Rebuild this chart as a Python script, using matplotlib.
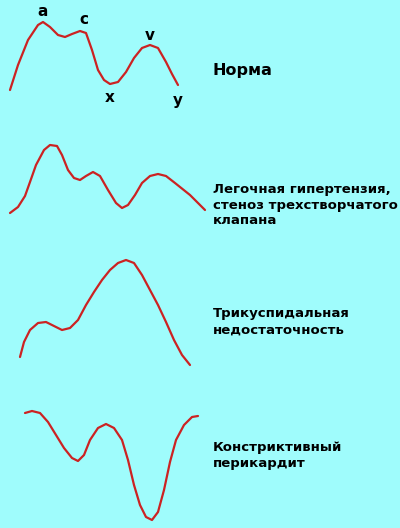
import matplotlib
matplotlib.use("Agg")
import matplotlib.pyplot as plt

# curves in picture pixel coordinates (x right, y down)
norm_x = [10, 18, 28, 38, 43, 50, 58, 65, 72, 80, 86, 92, 98, 104, 110, 118, 126, 134, 142, 150, 158, 166, 172, 178]
norm_y = [90, 65, 40, 25, 22, 27, 35, 37, 34, 31, 33, 50, 70, 80, 84, 82, 72, 58, 48, 45, 48, 62, 74, 85]

pulm_x = [10, 18, 25, 30, 36, 44, 50, 57, 62, 68, 74, 80, 86, 93, 100, 108, 116, 122, 128, 135, 142, 150, 158, 166, 175, 190, 205]
pulm_y = [213, 207, 196, 182, 165, 150, 145, 146, 155, 170, 178, 180, 176, 172, 176, 190, 203, 208, 205, 195, 183, 176, 174, 176, 183, 195, 210]

tric_x = [20, 24, 30, 38, 46, 54, 62, 70, 78, 86, 94, 102, 110, 118, 126, 134, 142, 150, 158, 166, 174, 182, 190]
tric_y = [357, 342, 330, 323, 322, 326, 330, 328, 320, 305, 292, 280, 270, 263, 260, 263, 275, 290, 305, 322, 340, 355, 365]

constr_x = [25, 32, 40, 48, 56, 64, 72, 78, 84, 90, 98, 106, 114, 122, 128, 134, 140, 146, 152, 158, 164, 170, 176, 184, 192, 198]
constr_y = [413, 411, 413, 422, 435, 448, 458, 461, 455, 440, 428, 424, 428, 440, 460, 485, 505, 517, 520, 512, 490, 462, 440, 425, 417, 416]

wave_labels = ["a", "c", "v", "x", "y"]
wave_x = [43, 84, 150, 110, 178]
wave_y = [12, 20, 35, 97, 101]

captions = ["Норма",
            "Легочная гипертензия,\nстеноз трехстворчатого\nклапана",
            "Трикуспидальная\nнедостаточность",
            "Констриктивный\nперикардит"]
caption_y = [70, 205, 322, 456]

bg = "#9ffcfc"
red = "#cc2222"

fig = plt.figure(figsize=(4, 5.28), dpi=100, facecolor=bg)
ax = fig.add_axes([0, 0, 1, 1], facecolor=bg)
ax.set_xlim(0, 400)
ax.set_ylim(528, 0)
ax.axis("off")

for xs, ys in [(norm_x, norm_y), (pulm_x, pulm_y), (tric_x, tric_y), (constr_x, constr_y)]:
    ax.plot(xs, ys, color=red, lw=1.6, solid_joinstyle="round", solid_capstyle="round")

for lab, x, y in zip(wave_labels, wave_x, wave_y):
    ax.text(x, y, lab, ha="center", va="center", fontsize=11, fontweight="bold")

for i, (txt, y) in enumerate(zip(captions, caption_y)):
    ax.text(213, y, txt, ha="left", va="center", fontsize=11.5 if i == 0 else 9.5,
            fontweight="bold", linespacing=1.3)

fig.savefig("out.png", dpi=100, facecolor=bg)
